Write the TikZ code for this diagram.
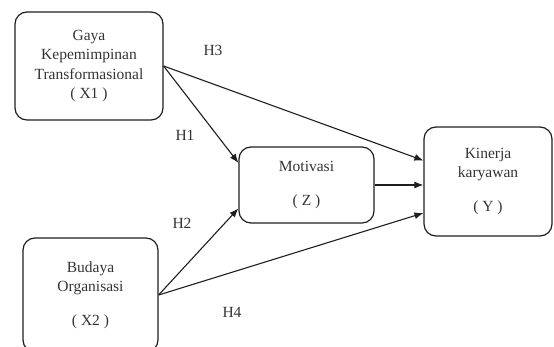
\documentclass[tikz,border=0pt]{standalone}
\usepackage{fontspec}
\setmainfont{Liberation Serif}
\usepackage{xcolor}
\usetikzlibrary{arrows.meta}
\definecolor{edge}{HTML}{1E1E1E}
\definecolor{ink}{HTML}{333333}
\tikzset{
  var/.style={draw=edge, line width=1.2pt, rounded corners=12pt, align=center,
    text=ink, font=\fontsize{15.5}{19.5}\selectfont, inner sep=0pt},
  path/.style={-{Latex[length=9pt,width=7pt]}, line width=1.1pt, draw=edge},
  hyp/.style={text=ink, font=\fontsize{15.5}{19}\selectfont}
}
\begin{document}
\begin{tikzpicture}[x=1pt,y=-1pt]
  \useasboundingbox (0,0) rectangle (554,347);

  \node[var, minimum width=148pt, minimum height=108pt] (X1) at (89,66)
    {Gaya\\Kepemimpinan\\Transformasional\\( X1 )};
  \node[var, minimum width=135pt, minimum height=114pt] (X2) at (90.5,295)
    {Budaya\\Organisasi\\[14pt]( X2 )};
  \node[var, minimum width=135pt, minimum height=76pt] (Z) at (306.5,185)
    {Motivasi\\[14pt]( Z )};
  \node[var, minimum width=128pt, minimum height=109pt] (Y) at (488,181.5)
    {Kinerja\\karyawan\\[14pt]( Y )};

  \draw[path] (X1.east) -- (Z.162);
  \draw[path] (X1.east) -- (Y.162);
  \draw[path] (X2.east) -- (Z.199);
  \draw[path] (X2.east) -- (Y.206);
  \draw[path] (Z.east) -- (Z.east -| Y.west);

  \node[hyp] (h1) at (185,135) {H1};
  \node[hyp] (h2) at (182,223) {H2};
  \node[hyp] (h3) at (213,50) {H3};
  \node[hyp] (h4) at (232,312) {H4};
\end{tikzpicture}
\end{document}
